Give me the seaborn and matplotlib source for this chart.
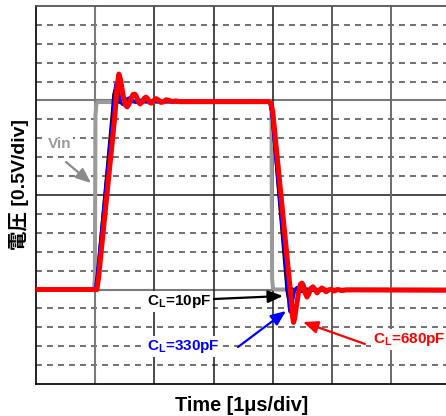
import matplotlib
matplotlib.use("Agg")
import matplotlib.pyplot as plt
import seaborn as sns

# Scope captures: time in microseconds, voltage in volts (0.5 V per minor division)
vin_t = [-1.0, -0.02, -0.005, 0.005, 0.02, 0.05, 2.965, 2.98, 2.99, 3.005, 3.04, 5.93]
vin_v = [0.0, 0.0, 0.3, 4.6, 4.92, 4.96, 4.96, 4.7, 0.3, 0.03, 0.0, 0.0]

cl10_t = [-1.0, -0.005, 0.025, 0.28, 0.30, 0.32, 0.345, 0.38, 0.41, 0.45, 0.49, 0.53, 0.58,
          2.915, 2.95, 2.975, 3.23, 3.25, 3.265, 3.285, 3.31, 3.33, 3.36, 3.40, 3.45, 5.93]
cl10_v = [0.0, 0.0, 0.35, 4.75, 5.15, 5.28, 5.15, 4.97, 4.93, 5.02, 5.03, 4.97, 4.97,
          4.97, 4.9, 4.65, -0.05, -0.22, -0.27, -0.18, 0.0, 0.04, 0.0, -0.02, 0.0, 0.0]

cl330_t = [-1.0, 0.005, 0.035, 0.30, 0.33, 0.355, 0.38, 0.42, 0.46, 0.50, 0.55, 0.59, 0.64,
           0.69, 0.74, 0.79, 0.85, 2.92, 2.955, 2.985, 3.26, 3.28, 3.295, 3.31, 3.34, 3.37,
           3.41, 3.45, 3.495, 3.54, 3.58, 3.63, 5.93]
cl330_v = [0.0, 0.0, 0.35, 4.6, 5.2, 5.45, 5.35, 5.0, 4.9, 4.93, 5.05, 5.07, 4.99,
           4.95, 5.0, 5.01, 4.97, 4.97, 4.92, 4.7, -0.05, -0.45, -0.59, -0.52, -0.25, -0.02,
           0.05, 0.0, -0.05, -0.01, 0.01, -0.02, -0.01]

cl680_t = [-1.0, 0.03, 0.06, 0.33, 0.37, 0.40, 0.43, 0.47, 0.51, 0.54, 0.57, 0.61, 0.64,
           0.67, 0.70, 0.73, 0.76, 0.79, 0.83, 0.86, 0.89, 0.92, 0.95, 0.99, 1.03, 1.07,
           1.11, 1.15, 1.20, 1.25, 1.30, 1.36, 1.42, 2.93, 2.97, 3.00, 3.31, 3.335, 3.352,
           3.37, 3.40, 3.44, 3.47, 3.495, 3.52, 3.55, 3.58, 3.61, 3.645, 3.68, 3.715, 3.75,
           3.79, 3.83, 3.87, 3.90, 3.94, 3.99, 4.04, 4.10, 4.17, 4.25, 5.93]
cl680_v = [0.0, 0.0, 0.35, 4.55, 5.35, 5.70, 5.55, 5.15, 4.88, 4.83, 4.90, 5.07, 5.16,
           5.17, 5.10, 4.96, 4.91, 4.95, 5.06, 5.09, 5.04, 4.95, 4.93, 5.00, 5.05, 5.01,
           4.95, 4.96, 5.02, 5.00, 4.97, 4.99, 4.97, 4.97, 4.93, 4.72, -0.21, -0.70, -0.87,
           -0.78, -0.45, -0.05, 0.14, 0.17, 0.10, -0.10, -0.20, -0.12, 0.03, 0.07, 0.0, -0.09,
           -0.02, 0.04, 0.0, -0.06, -0.02, 0.01, -0.04, 0.0, -0.03, -0.01, -0.02]

x_title = "Time [1μs/div]"
y_title = "電圧 [0.5V/div]"

W, H = 446, 416
X0, Y_TOP, Y_BOT = 36, 6, 384
PX_PER_US = 59.17

sns.set_theme(style="white")
plt.rcParams["font.family"] = ["Liberation Sans", "Noto Sans CJK JP", "DejaVu Sans"]

fig = plt.figure(figsize=(W / 100, H / 100), dpi=100)
ax = fig.add_axes([X0 / W, (H - Y_BOT) / H, (W - X0) / W, (Y_BOT - Y_TOP) / H])
ax.set_xlim(-1, -1 + (W - X0) / PX_PER_US)
ax.set_ylim(-2.5, 7.5)

# graticule: dashed minor levels, solid major divisions
minor_levels = [-2, -1.5, -1, -0.5, 0.5, 1, 1.5, 2, 3, 3.5, 4, 4.5, 5.5, 6, 6.5, 7]
for y in minor_levels:
    ax.axhline(y, color="#4a4a4a", lw=1.1, linestyle=(0, (3.9, 3.3)), zorder=1)
for y, c, w in [(0, "#7a7a7a", 1.5), (2.5, "#1a1a1a", 1.1), (5.0, "#7a7a7a", 1.5)]:
    ax.axhline(y, color=c, lw=w, zorder=1)
for x, c, w in [(0, "#7a7a7a", 1.5), (1, "#3a3a3a", 1.3), (2, "#1a1a1a", 1.1),
                (3, "#1a1a1a", 1.1), (4, "#5a5a5a", 1.4), (5, "#6a6a6a", 1.4)]:
    ax.axvline(x, color=c, lw=w, zorder=1)

for side in ["left", "bottom"]:
    ax.spines[side].set_color("#111111")
    ax.spines[side].set_linewidth(1.3)
ax.spines["top"].set_color("#555555")
ax.spines["top"].set_linewidth(1.3)
ax.spines["right"].set_visible(False)

traces = [
    (vin_t, vin_v, "#9a9a9a", 2.9, 3),
    (cl10_t, cl10_v, "#000000", 1.1, 4),
    (cl330_t, cl330_v, "#0000ff", 2.5, 5),
    (cl680_t, cl680_v, "#ff0000", 3.6, 6),
]
for t, v, c, w, z in traces:
    sns.lineplot(x=t, y=v, color=c, linewidth=w, estimator=None, sort=False, ax=ax,
                 zorder=z, solid_capstyle="round", solid_joinstyle="round")

ax.set_xticks([])
ax.set_yticks([])
ax.set_xlabel("")
ax.set_ylabel("")

box = dict(facecolor="white", edgecolor="none", pad=1.2)
lbl = dict(fontsize=11, fontweight="bold", ha="left", va="baseline", zorder=9, bbox=box)
ax.text(-0.797, 3.743, "Vin", color="#9a9a9a", **lbl)
ax.text(0.876, -0.41, r"C$_\mathregular{L}$=10pF", color="black", **lbl)
ax.text(0.876, -1.60, r"C$_\mathregular{L}$=330pF", color="#0000ff", **lbl)
ax.text(4.695, -1.415, r"C$_\mathregular{L}$=680pF", color="#ff0000", **lbl)

arrows = [
    ((-0.493, 3.373), (-0.07, 2.817), "#8a8a8a"),
    ((2.008, -0.251), (3.174, -0.172), "black"),
    ((2.414, -1.521), (3.225, -0.569), "#0000ff"),
    ((4.560, -1.442), (3.512, -0.860), "#ff0000"),
]
for tail, head, c in arrows:
    ax.annotate("", xy=head, xytext=tail, zorder=8,
                arrowprops=dict(arrowstyle="-|>,head_length=0.6,head_width=0.25",
                                mutation_scale=15, lw=1.6, color=c,
                                shrinkA=0, shrinkB=0))

# axis titles placed in figure pixels
fig.text(242 / W, (H - 411) / H, x_title, fontsize=14.3, fontweight="bold",
         color="black", ha="center", va="baseline")
fig.text(19 / W, (H - 185) / H, y_title, fontsize=14, fontweight="bold",
         color="black", ha="center", va="center", rotation=90)

fig.savefig("out.png", dpi=100)
